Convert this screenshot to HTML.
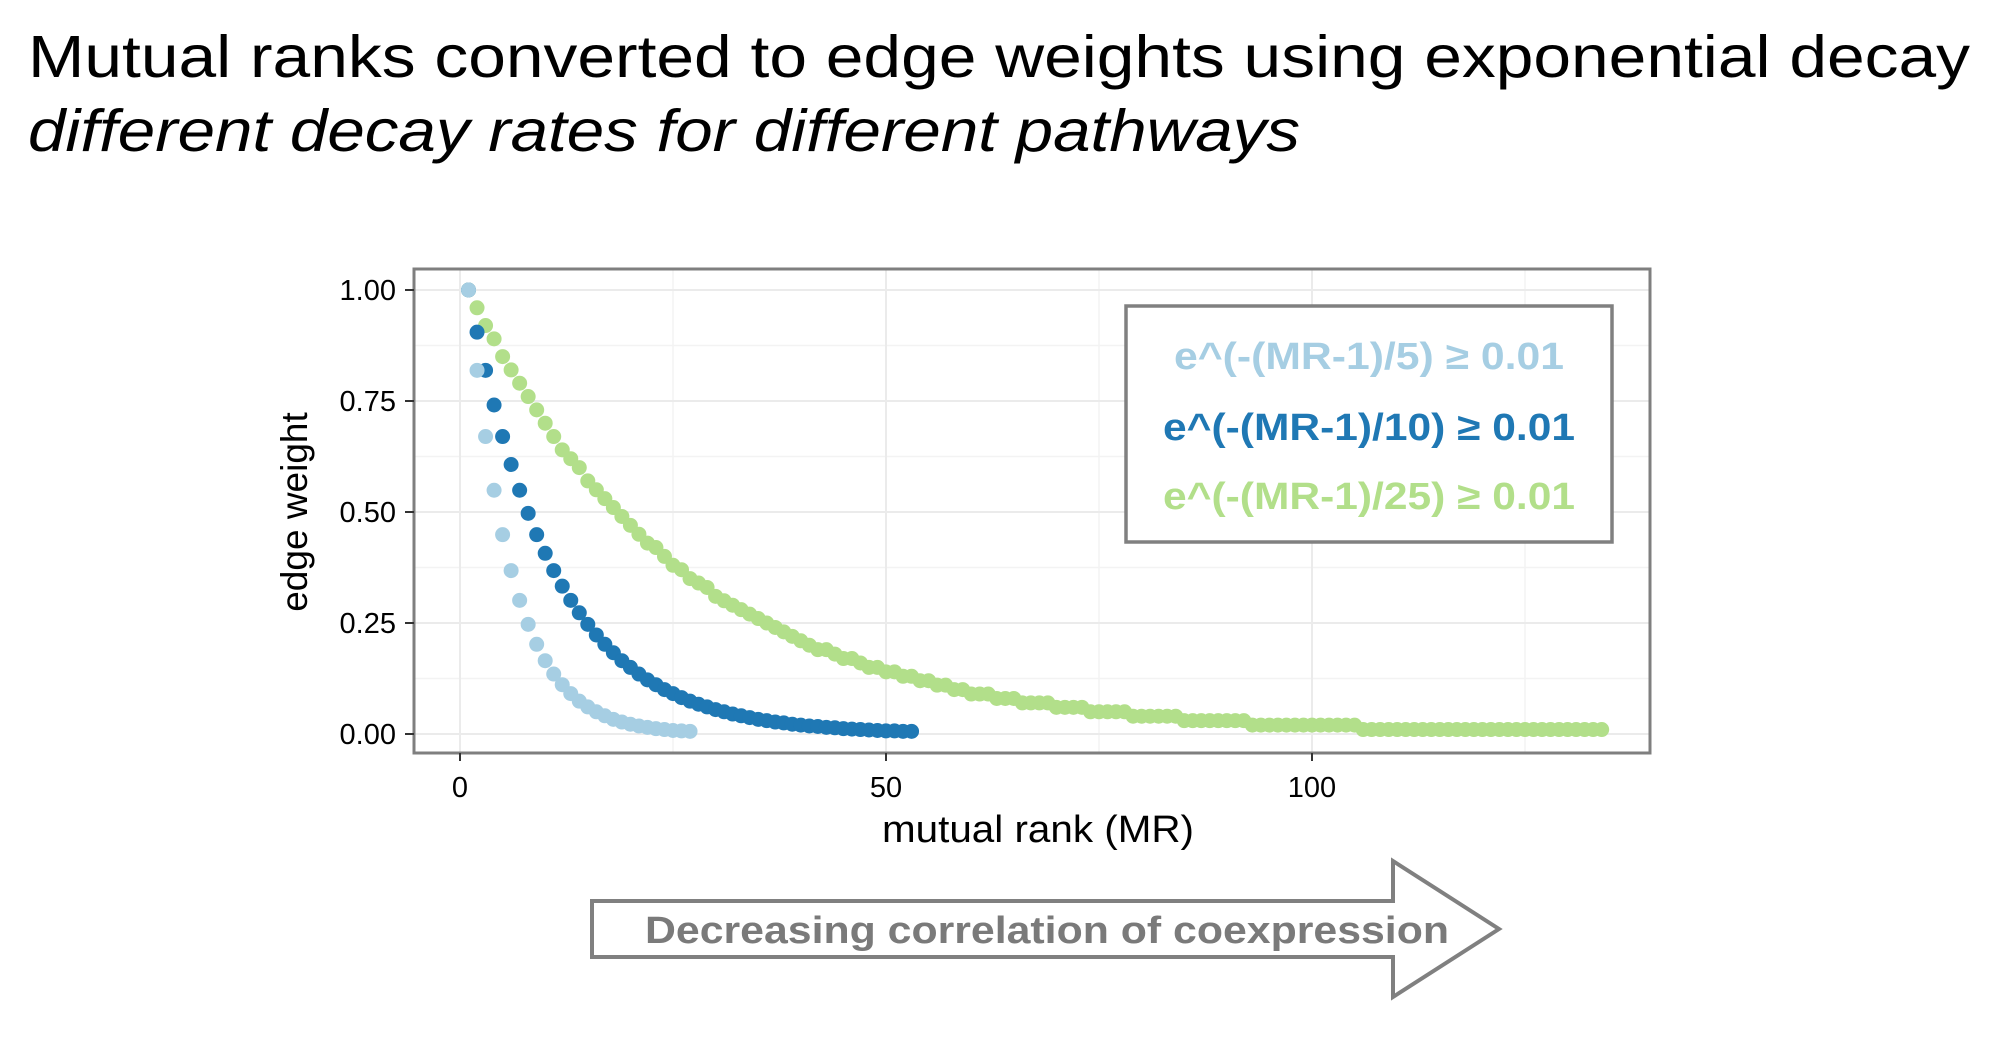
<!DOCTYPE html>
<html><head><meta charset="utf-8"><style>
body{margin:0;background:#fff;width:1999px;height:1039px;overflow:hidden}
svg{display:block}
text{font-family:"Liberation Sans",sans-serif}
</style></head><body>
<svg id="chart" width="1999" height="1039" viewBox="0 0 1999 1039">
<text x="28" y="77" font-size="59" textLength="1942" lengthAdjust="spacingAndGlyphs">Mutual ranks converted to edge weights using exponential decay</text>
<text x="28" y="151" font-size="59" font-style="italic" textLength="1272" lengthAdjust="spacingAndGlyphs">different decay rates for different pathways</text>
<g id="grid"></g>
<g id="points"></g>
<rect x="414" y="269" width="1236" height="484" fill="none" stroke="#7f7f7f" stroke-width="3"/>
<g id="axes"></g>
<text x="1038" y="842" font-size="38" text-anchor="middle" textLength="312" lengthAdjust="spacingAndGlyphs">mutual rank (MR)</text>
<text transform="translate(307,512) rotate(-90)" font-size="37" text-anchor="middle">edge weight</text>
<g>
<rect x="1126" y="306" width="486" height="236" fill="#fff" stroke="#808080" stroke-width="3.5"/>
<text x="1369" y="369" font-size="38" font-weight="bold" fill="#a6cee3" text-anchor="middle" textLength="390" lengthAdjust="spacingAndGlyphs">e^(-(MR-1)/5) ≥ 0.01</text>
<text x="1369" y="440" font-size="38" font-weight="bold" fill="#1f78b4" text-anchor="middle" textLength="412" lengthAdjust="spacingAndGlyphs">e^(-(MR-1)/10) ≥ 0.01</text>
<text x="1369" y="509" font-size="38" font-weight="bold" fill="#b2df8a" text-anchor="middle" textLength="412" lengthAdjust="spacingAndGlyphs">e^(-(MR-1)/25) ≥ 0.01</text>
</g>
<g>
<polygon points="592,901 1393,901 1393,861 1499,929 1393,997 1393,957 592,957" fill="#fff" stroke="#808080" stroke-width="4"/>
<text x="1047" y="943" font-size="38" font-weight="bold" fill="#7a7a7a" text-anchor="middle" textLength="804" lengthAdjust="spacingAndGlyphs">Decreasing correlation of coexpression</text>
</g>
</svg>
<script>
const xTicks=[0,50,100];
const yTicks=[0,0.25,0.5,0.75,1];
const yTickLabels=["0.00","0.25","0.50","0.75","1.00"];
const wK5=[1,.819,.670,.549,.449,.368,.301,.247,.202,.165,.135,.111,.091,.074,.061,.050,.041,.033,.027,.022,.018,.015,.012,.010,.008,.007,.006];
const wK10=[1,.905,.819,.741,.670,.607,.549,.497,.449,.407,.368,.333,.301,.273,.247,.223,.202,.183,.165,.150,.135,.122,.111,.100,.091,.082,.074,.067,.061,.055,.050,.045,.041,.037,.033,.030,.027,.025,.022,.020,.018,.017,.015,.014,.012,.011,.010,.009,.008,.007,.007,.006,.006];
const wK25=[1,.96,.92,.89,.85,.82,.79,.76,.73,.70,.67,.64,.62,.60,.57,.55,.53,.51,.49,.47,.45,.43,.42,.40,.38,.37,.35,.34,.33,.31,.30,.29,.28,.27,.26,.25,.24,.23,.22,.21,.20,.19,.19,.18,.17,.17,.16,.15,.15,.14,.14,.13,.13,.12,.12,.11,.11,.10,.10,.09,.09,.09,.08,.08,.08,.07,.07,.07,.07,.06,.06,.06,.06,.05,.05,.05,.05,.05,.04,.04,.04,.04,.04,.04,.03,.03,.03,.03,.03,.03,.03,.03,.02,.02,.02,.02,.02,.02,.02,.02,.02,.02,.02,.02,.02,.01,.01,.01,.01,.01,.01,.01,.01,.01,.01,.01,.01,.01,.01,.01,.01,.01,.01,.01,.01,.01,.01,.01,.01,.01,.01,.01,.01,.01];
const NS="http://www.w3.org/2000/svg";
const X=v=>460+v*8.52, Y=v=>734-v*444;
function mk(tag,attrs,parent){const e=document.createElementNS(NS,tag);for(const k in attrs)e.setAttribute(k,attrs[k]);parent.appendChild(e);return e;}
const grid=document.getElementById('grid'),axes=document.getElementById('axes'),pts=document.getElementById('points');
[-25,25,75,125].forEach(v=>{if(X(v)>414&&X(v)<1650){const l=mk('line',{x1:X(v),x2:X(v),y1:269,y2:753,stroke:'#f3f3f3','stroke-width':1.5},grid);}});
[0.125,0.375,0.625,0.875].forEach(v=>{const l=mk('line',{x1:414,x2:1650,y1:Y(v),y2:Y(v),stroke:'#f3f3f3','stroke-width':1.5},grid);});
xTicks.forEach(v=>{const l=mk('line',{x1:X(v),x2:X(v),y1:269,y2:753,stroke:'#ebebeb','stroke-width':2},grid);
const t=mk('line',{x1:X(v),x2:X(v),y1:753,y2:761,stroke:'#333','stroke-width':2},axes);
const tx=mk('text',{x:X(v),y:797,'font-size':29,'text-anchor':'middle'},axes);tx.textContent=v;});
yTicks.forEach((v,i)=>{const l=mk('line',{x1:414,x2:1650,y1:Y(v),y2:Y(v),stroke:'#ebebeb','stroke-width':2},grid);
const t=mk('line',{x1:405,x2:414,y1:Y(v),y2:Y(v),stroke:'#333','stroke-width':2},axes);
const tx=mk('text',{x:396,y:Y(v)+10,'font-size':29,'text-anchor':'end'},axes);tx.textContent=yTickLabels[i];});
[[wK25,'#b2df8a','k25'],[wK10,'#1f78b4','k10'],[wK5,'#a6cee3','k5']].forEach(([arr,c,n])=>{arr.forEach((w,i)=>{const p=mk('circle',{cx:X(i+1),cy:Y(w),r:7.5,fill:c},pts);});});
</script>
</body></html>
